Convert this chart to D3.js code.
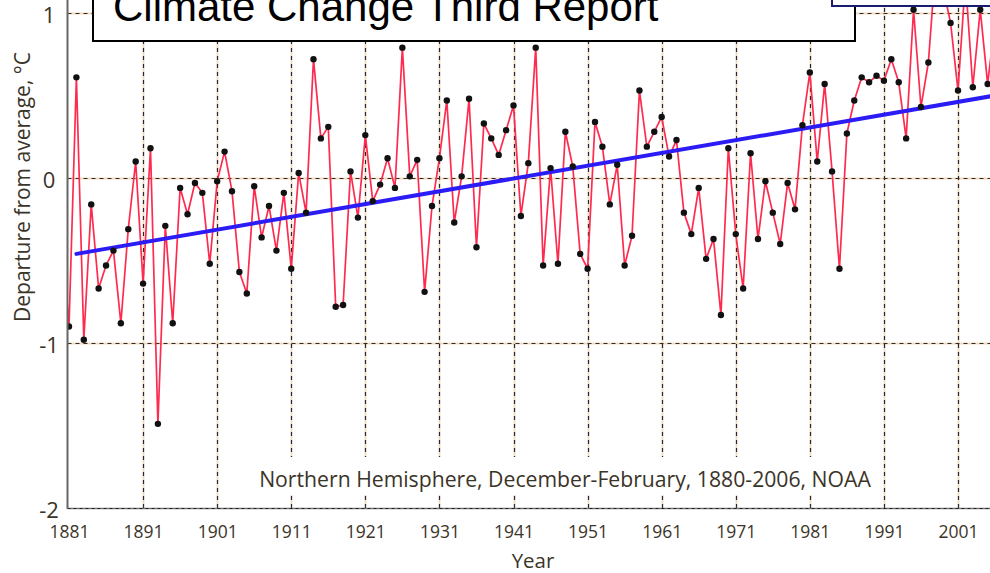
<!DOCTYPE html>
<html>
<head>
<meta charset="UTF-8">
<style>
body {margin:0; background:#fff;}
svg text {font-family:"Open Sans", "Noto Sans", sans-serif; fill:#3b3428;}
.grid-bg {stroke:#f1dcc0; stroke-width:1.8px; fill:none;}
.grid-fg {stroke:#2a2a2a; stroke-width:1.2px; stroke-dasharray:4,4; fill:none;}
.series {fill:none; stroke:#ff2b4f; stroke-width:1.7px; stroke-linejoin:round;}
.trend {stroke:#2b1cf5; stroke-width:4px; stroke-linecap:round;}
.dot {fill:#111;}
</style>
<script src="https://d3js.org/d3.v7.min.js"></script>
<title>Northern Hemisphere winter temperature</title>
</head>
<body>
<svg id="chart" width="990" height="573"></svg>
<script>
// NH Dec-Feb departures (degC), one value per year from 1880
var firstYear = 1880;
var anomaly = [
  -0.33, -0.90, 0.61, -0.98, -0.16, -0.67, -0.53, -0.44, -0.88, -0.31,
   0.10, -0.64, 0.18, -1.49, -0.29, -0.88, -0.06, -0.22, -0.03, -0.09,
  -0.52, -0.02, 0.16, -0.08, -0.57, -0.70, -0.05, -0.36, -0.17, -0.44,
  -0.09, -0.55, 0.03, -0.21, 0.72, 0.24, 0.31, -0.78, -0.77, 0.04,
  -0.24, 0.26, -0.14, -0.04, 0.12, -0.06, 0.79, 0.01, 0.11, -0.69,
  -0.17, 0.12, 0.47, -0.27, 0.01, 0.48, -0.42, 0.33, 0.24, 0.14,
   0.29, 0.44, -0.23, 0.09, 0.79, -0.53, 0.06, -0.52, 0.28, 0.07,
  -0.46, -0.55, 0.34, 0.19, -0.16, 0.08, -0.53, -0.35, 0.53, 0.19,
   0.28, 0.37, 0.13, 0.23, -0.21, -0.34, -0.06, -0.49, -0.37, -0.83,
   0.18, -0.34, -0.67, 0.15, -0.37, -0.02, -0.21, -0.40, -0.03, -0.19,
   0.32, 0.64, 0.10, 0.57, 0.04, -0.55, 0.27, 0.47, 0.61, 0.58,
   0.62, 0.59, 0.72, 0.58, 0.24, 1.02, 0.43, 0.70, 1.30, 1.15,
   0.94, 0.53, 1.20, 0.55, 1.02, 0.57, 0.95
];
var trendYears = [1882, 2006];
var trendValues = [-0.46, 0.50];
var xTicks = [1881, 1891, 1901, 1911, 1921, 1931, 1941, 1951, 1961, 1971, 1981, 1991, 2001];
var yTicks = [1, 0, -1, -2];
var gridY = [1, 0, -1];

var data = anomaly.map(function(v, i) { return {year: firstYear + i, value: v}; });
var trend = trendYears.map(function(y, i) { return {year: y, value: trendValues[i]}; });

var svg = d3.select("#chart");
var x = d3.scaleLinear().domain([1881, 2001]).range([69, 958]);
var y = d3.scaleLinear().domain([-2, 1]).range([508, 13]);
var left = 67.5, right = 990, bottom = 508;

svg.append("defs").append("clipPath").attr("id", "plotclip")
  .append("rect").attr("x", left).attr("y", 0).attr("width", right - left).attr("height", bottom);

// grid
var grid = svg.append("g");
["grid-bg", "grid-fg"].forEach(function(cls) {
  grid.selectAll("line.v." + cls).data(xTicks.slice(1)).enter().append("line")
    .attr("class", "v " + cls)
    .attr("x1", function(d) { return Math.round(x(d)) + 0.5; })
    .attr("x2", function(d) { return Math.round(x(d)) + 0.5; })
    .attr("y1", 0).attr("y2", bottom);
  grid.selectAll("line.h." + cls).data(gridY).enter().append("line")
    .attr("class", "h " + cls)
    .attr("x1", left).attr("x2", right)
    .attr("y1", function(d) { return Math.round(y(d)) + 0.5; })
    .attr("y2", function(d) { return Math.round(y(d)) + 0.5; });
});

// note with white backing
svg.append("rect").attr("x", 250).attr("y", 457).attr("width", 628).attr("height", 38).attr("fill", "#fff");
svg.append("text").attr("x", 565).attr("y", 487).attr("text-anchor", "middle")
  .style("font-size", "21.2px")
  .text("Northern Hemisphere, December-February, 1880-2006,  NOAA");

// series
var plot = svg.append("g").attr("clip-path", "url(#plotclip)");
var line = d3.line().x(function(d) { return x(d.year); }).y(function(d) { return y(d.value); });
plot.append("path").datum(data).attr("class", "series").attr("d", line);
plot.append("line").attr("class", "trend")
  .attr("x1", x(trend[0].year)).attr("y1", y(trend[0].value))
  .attr("x2", x(trend[1].year)).attr("y2", y(trend[1].value));
plot.selectAll("circle").data(data).enter().append("circle")
  .attr("class", "dot")
  .attr("cx", function(d) { return x(d.year); })
  .attr("cy", function(d) { return y(d.value); })
  .attr("r", 3.2);

// axes
svg.append("line").attr("x1", left).attr("x2", right).attr("y1", bottom + 0.5).attr("y2", bottom + 0.5)
  .attr("stroke", "#777").attr("stroke-width", 1.6);
svg.append("line").attr("x1", left).attr("x2", right).attr("y1", bottom + 0.5).attr("y2", bottom + 0.5)
  .attr("stroke", "#222").attr("stroke-width", 1).attr("stroke-dasharray", "3,3");
svg.append("line").attr("x1", left).attr("x2", left).attr("y1", 0).attr("y2", bottom + 1)
  .attr("stroke", "#666").attr("stroke-width", 2);

var plain = function(d) { return String(d); };
var xAxis = d3.axisBottom(x).tickValues(xTicks).tickFormat(plain).tickSize(0).tickPadding(18);
svg.append("g").attr("transform", "translate(0," + bottom + ")").call(xAxis)
  .call(function(g) { g.select(".domain").remove(); })
  .selectAll("text").style("font-size", "17.5px").attr("fill", "#3b3428").style("font-family", "Open Sans");

var yAxis = d3.axisLeft(y).tickValues(yTicks).tickFormat(plain).tickSize(0).tickPadding(0);
svg.append("g").attr("transform", "translate(49,0)").call(yAxis)
  .call(function(g) { g.select(".domain").remove(); })
  .selectAll("text").attr("text-anchor", "middle").attr("dy", "0.42em")
  .style("font-size", "22px").attr("fill", "#3b3428").style("font-family", "Open Sans");

svg.append("text").attr("transform", "translate(30,187) rotate(-90)").attr("text-anchor", "middle")
  .style("font-size", "21px").text("Departure from average, \u00B0C");
svg.append("text").attr("x", 533).attr("y", 568).attr("text-anchor", "middle")
  .style("font-size", "20.5px").text("Year");

// boxes at the top
svg.append("rect").attr("x", 93).attr("y", -10).attr("width", 762).attr("height", 51)
  .attr("fill", "#fff").attr("stroke", "#000").attr("stroke-width", 2);
svg.append("text").attr("x", 113).attr("y", 21)
  .style("font-family", "Liberation Sans, Arial, sans-serif").style("font-size", "42px").style("fill", "#000")
  .text("Climate Change Third Report");
svg.append("rect").attr("x", 832).attr("y", -20).attr("width", 180).attr("height", 26)
  .attr("fill", "#fff").attr("stroke", "#1b1b70").attr("stroke-width", 2);
</script>
</body>
</html>
